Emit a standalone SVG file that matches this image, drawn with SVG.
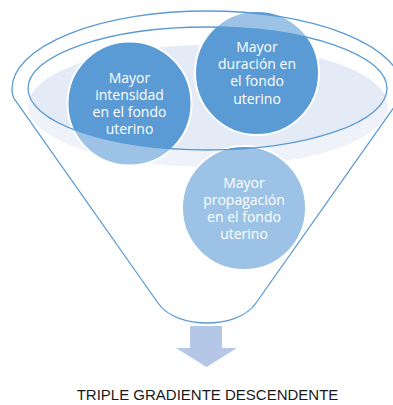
<svg xmlns="http://www.w3.org/2000/svg" width="393" height="405" viewBox="0 0 393 405">
<style>
.node{fill:#5b9bd5;stroke:#ffffff;stroke-width:2}
.line{fill:none;stroke:#5b9bd5;stroke-width:1.3}
.lbl{font-family:"Open Sans","Liberation Sans",sans-serif;font-size:14px;fill:#ffffff;text-anchor:middle}
.title{font-family:"Liberation Sans",Arial,sans-serif;font-size:15px;fill:#1a1a1a;text-anchor:middle}
</style>
<rect width="393" height="405" fill="#ffffff"/>
<g id="funnel-fill">
<ellipse cx="208" cy="106" rx="180" ry="61" fill="#e4ebf6"/>
</g>
<g id="node-intensidad">
<circle class="node" cx="129.5" cy="103.5" r="62"/>
</g>
<g id="node-duracion">
<circle class="node" cx="257" cy="73" r="62"/>
</g>
<g id="node-propagacion">
<circle class="node" cx="244" cy="208" r="62"/>
</g>
<g id="funnel">
<path d="M15,100 Q12,96 12,89 A195,78 0 0 1 402,89 Q402,96 399,100 L256,303 C246,318 224,323 207,323 C190,323 168,318 158,303 Z M28,88.5 A179.5,61.5 0 0 0 387,88.5 A179.5,61.5 0 0 0 28,88.5 Z" fill="#ffffff" fill-opacity="0.4" fill-rule="evenodd"/>
<path class="line" d="M15,100 Q12,96 12,89 A195,78 0 0 1 402,89 Q402,96 399,100 L256,303 C246,318 224,323 207,323 C190,323 168,318 158,303 Z"/>
<ellipse class="line" cx="207.5" cy="88.5" rx="179.5" ry="61.5"/>
</g>
<g id="labels">
<text class="lbl" x="129.5"><tspan x="129.5" y="82.5">Mayor</tspan><tspan x="129.5" y="99.8">intensidad</tspan><tspan x="129.5" y="117.1">en el fondo</tspan><tspan x="129.5" y="134.4">uterino</tspan></text>
<text class="lbl" x="257"><tspan x="257" y="51.7">Mayor</tspan><tspan x="257" y="69">duración en</tspan><tspan x="257" y="86.3">el fondo</tspan><tspan x="257" y="103.6">uterino</tspan></text>
<text class="lbl" x="244"><tspan x="244" y="187.5">Mayor</tspan><tspan x="244" y="204.8">propagación</tspan><tspan x="244" y="222.1">en el fondo</tspan><tspan x="244" y="239.4">uterino</tspan></text>
</g>
<g id="connectors">
<path d="M190,326 H222 V348 H237 L206.5,367 L176,348 H190 Z" fill="#b4c7e7"/>
</g>
<g id="node-title">
<text class="title" x="207.5" y="399.5">TRIPLE GRADIENTE DESCENDENTE</text>
</g>
</svg>
